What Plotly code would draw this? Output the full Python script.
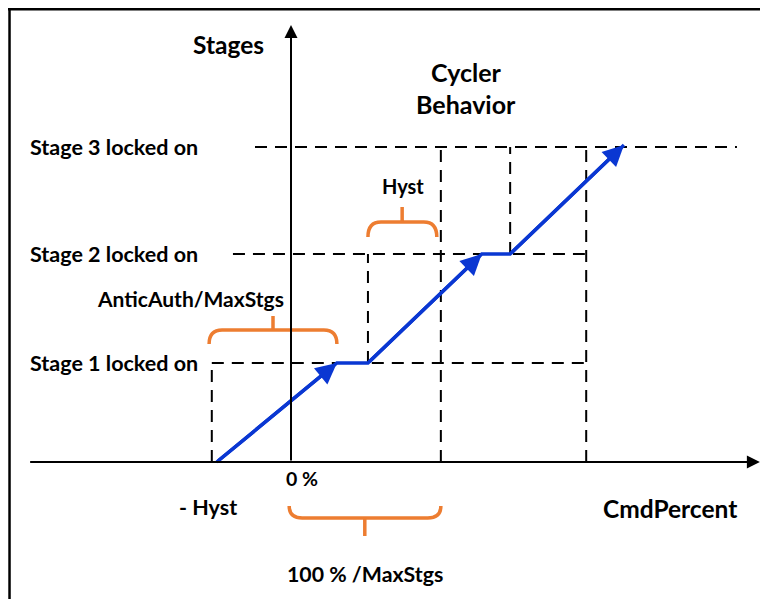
import plotly.graph_objects as go

# horizontal unit: CmdPercent (%), vertical unit: height above the CmdPercent axis
stage_names = ["Stage 1 locked on", "Stage 2 locked on", "Stage 3 locked on"]
stage_levels = [99, 208, 315]

# cycler path (blue), arrows at the end of each rising leg
cycle_x = [-16.5, 10.2, 17.1, 42.4, 48.7, 74.0]
cycle_y = [0, 99, 99, 208, 208, 317]
arrow_idx = [1, 3, 5]

# dashed guides
h_guide_start = [-17.6, -12.9, -8.0]
h_guide_end = [65.3, 65.3, 99.1]
v_guide_x = [-17.6, 17.1, 33.3, 48.7, 65.6]
v_guide_lo = [0, 99, 0, 208, 0]
v_guide_hi = [99, 208, 315, 315, 315]

# orange braces: left, right, centre, base, tip of ends, tip of centre tick
braces = {
    "antic": [-18.2, 10.2, -4.0, 132, 118, 146],
    "hyst": [17.1, 32.4, 24.7, 240, 225, 255],
    "step": [-0.4, 33.3, 16.4, -56, -44, -74],
}

BLUE = "#0A37D2"
ORANGE = "#ED7D31"
FONT = "Lato"

fig = go.Figure()

fig.add_scatter(
    x=cycle_x, y=cycle_y, mode="lines",
    line=dict(color=BLUE, width=3.5), hoverinfo="skip", showlegend=False,
)

for i in arrow_idx:
    fig.add_annotation(
        x=cycle_x[i], y=cycle_y[i], ax=cycle_x[i - 1], ay=cycle_y[i - 1],
        xref="x", yref="y", axref="x", ayref="y", text="",
        showarrow=True, arrowhead=2, arrowsize=1.2, arrowwidth=3.5, arrowcolor=BLUE,
    )

dash = dict(color="black", width=2, dash="12px,8px")
for lvl, x0, x1 in zip(stage_levels, h_guide_start, h_guide_end):
    fig.add_shape(type="line", x0=x0, x1=x1, y0=lvl, y1=lvl, xref="x", yref="y", line=dash, layer="below")
for x, lo, hi in zip(v_guide_x, v_guide_lo, v_guide_hi):
    fig.add_shape(type="line", x0=x, x1=x, y0=lo, y1=hi, xref="x", yref="y", line=dash, layer="below")

# axes drawn as arrows
fig.add_annotation(x=104.2, y=0, ax=-58.3, ay=0, xref="x", yref="y", axref="x", ayref="y",
                   text="", showarrow=True, arrowhead=2, arrowsize=1.3, arrowwidth=2, arrowcolor="black")
fig.add_annotation(x=0, y=437, ax=0, ay=0, xref="x", yref="y", axref="x", ayref="y",
                   text="", showarrow=True, arrowhead=2, arrowsize=1.3, arrowwidth=2, arrowcolor="black")

for xl, xr, xc, yb, ye, yt in braces.values():
    r = 2.9
    path = (
        f"M {xl},{ye} Q {xl},{yb} {xl + r},{yb} L {xr - r},{yb} Q {xr},{yb} {xr},{ye} "
        f"M {xc},{yb} L {xc},{yt}"
    )
    fig.add_shape(type="path", path=path, xref="x", yref="y", line=dict(color=ORANGE, width=3.5))


def label(text, x, y, xanchor="center", size=21):
    fig.add_annotation(x=x, y=y, text=f"<b>{text}</b>", showarrow=False, xref="x", yref="y",
                       xanchor=xanchor, yanchor="middle", font=dict(family=FONT, size=size, color="black"))


for name, lvl in zip(stage_names, stage_levels):
    label(name, -58.4, lvl, xanchor="left", size=21.5)
label("Stages", -14.0, 418, size=24.5)
label("Cycler", 38.9, 390, size=25)
label("Behavior", 38.9, 358, size=25)
label("AnticAuth/MaxStgs", -22.4, 164, size=21)
label("Hyst", 24.9, 276, size=20)
label("0 %", 2.4, -16, size=19.5)
label("- Hyst", -18.4, -45, size=21.5)
label("CmdPercent", 84.2, -46, size=24.5)
label("100 % /MaxStgs", 16.4, -112, size=21.3)

# outer frame (left and top edges)
fig.add_shape(type="line", x0=0.002, x1=0.002, y0=0, y1=1, xref="paper", yref="paper",
              line=dict(color="black", width=2.5))
fig.add_shape(type="line", x0=0, x1=1, y0=0.998, y1=0.998, xref="paper", yref="paper",
              line=dict(color="black", width=2.5))

fig.update_layout(
    width=760, height=591, autosize=False,
    margin=dict(l=0, r=0, t=0, b=0),
    plot_bgcolor="white", paper_bgcolor="white",
    xaxis=dict(range=[-62.89, 106.0], visible=False, fixedrange=True),
    yaxis=dict(range=[-137, 454], visible=False, fixedrange=True),
    showlegend=False,
)

fig.write_html("out.html")
